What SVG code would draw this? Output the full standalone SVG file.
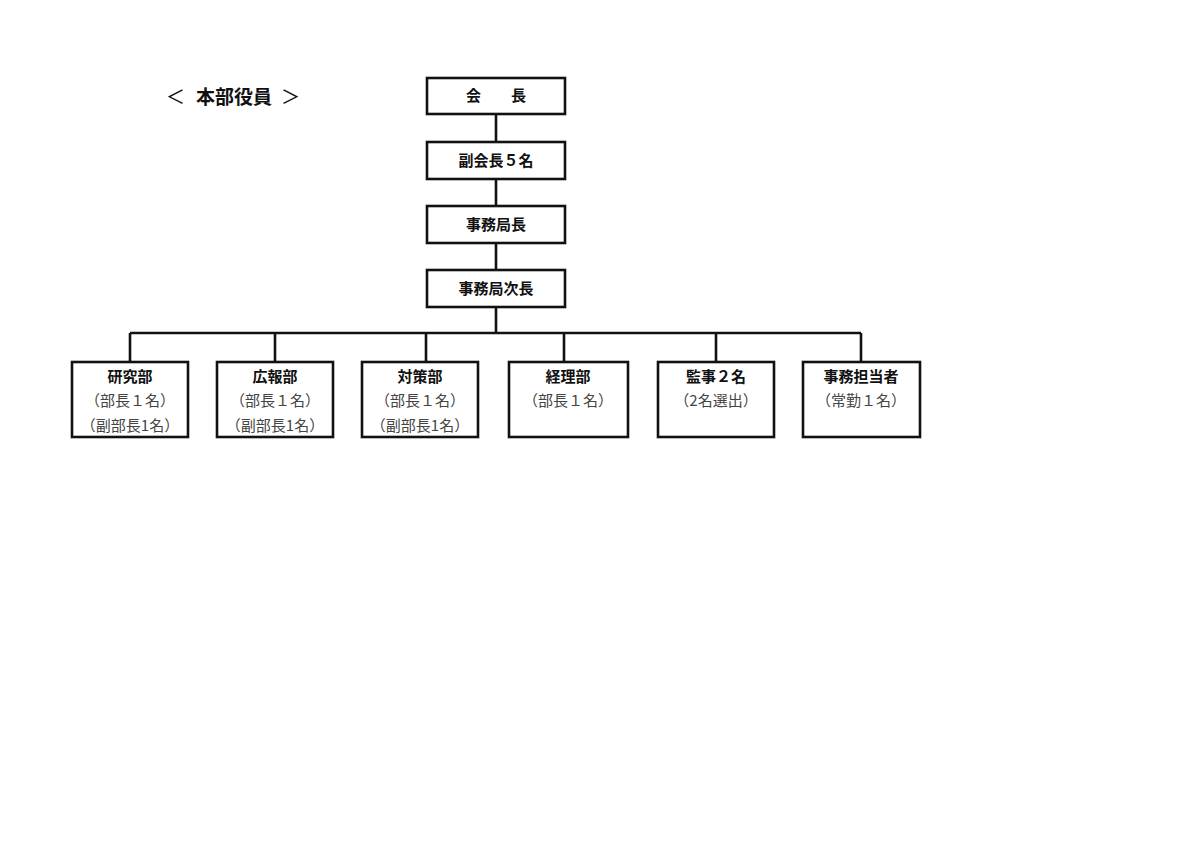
<svg xmlns="http://www.w3.org/2000/svg" width="1200" height="848" viewBox="0 0 1200 848">
<style>
.box{fill:#fff;stroke:#111;stroke-width:2.6}
.ln{stroke:#111;stroke-width:2.6;fill:none}
.t{font-family:"Noto Sans CJK JP","Noto Sans CJK SC",sans-serif;font-size:15px;font-weight:bold;fill:#111;text-anchor:middle}
.s{font-family:"Noto Sans CJK JP","Noto Sans CJK SC",sans-serif;font-size:15px;fill:#444;text-anchor:middle}
.h{font-family:"Noto Sans CJK JP","Noto Sans CJK SC",sans-serif;font-size:19px;fill:#111}
</style>
<rect width="1200" height="848" fill="#fff"/>
<g id="heading"><text class="h" x="166" y="104">＜</text><text class="h" x="196" y="104" font-weight="bold">本部役員</text><text class="h" x="281" y="104">＞</text></g>
<g id="connectors">
<path class="ln" d="M496 114V141M496 179V205M496 243V269M496 307V333M130 333H861M130 333V362M275 333V362M426 333V362M564 333V362M716 333V362M861 333V362"/>
</g>
<g id="kaicho"><rect class="box" x="427" y="78" width="138" height="36"/><text class="t" x="496" y="101">会　　長</text></g>
<g id="fukukaicho"><rect class="box" x="427" y="142" width="138" height="37"/><text class="t" x="496" y="166">副会長５名</text></g>
<g id="jimukyokucho"><rect class="box" x="427" y="206" width="138" height="37"/><text class="t" x="496" y="230">事務局長</text></g>
<g id="jimukyokujicho"><rect class="box" x="427" y="270" width="138" height="37"/><text class="t" x="496" y="294">事務局次長</text></g>
<g id="kenkyubu"><rect class="box" x="72" y="362" width="116" height="75"/><text class="t" x="130" y="382">研究部</text><text class="s" x="130" y="406">（部長１名）</text><text class="s" x="130" y="431">（副部長1名）</text></g>
<g id="kohobu"><rect class="box" x="217" y="362" width="116" height="75"/><text class="t" x="275" y="382">広報部</text><text class="s" x="275" y="406">（部長１名）</text><text class="s" x="275" y="431">（副部長1名）</text></g>
<g id="taisakubu"><rect class="box" x="362" y="362" width="116" height="75"/><text class="t" x="420" y="382">対策部</text><text class="s" x="420" y="406">（部長１名）</text><text class="s" x="420" y="431">（副部長1名）</text></g>
<g id="keiribu"><rect class="box" x="509" y="362" width="119" height="75"/><text class="t" x="568" y="382">経理部</text><text class="s" x="568" y="406">（部長１名）</text></g>
<g id="kanji"><rect class="box" x="658" y="362" width="116" height="75"/><text class="t" x="716" y="382">監事２名</text><text class="s" x="716" y="406">（2名選出）</text></g>
<g id="jimutanto"><rect class="box" x="803" y="362" width="117" height="75"/><text class="t" x="861" y="382">事務担当者</text><text class="s" x="861" y="406">（常勤１名）</text></g>
</svg>
